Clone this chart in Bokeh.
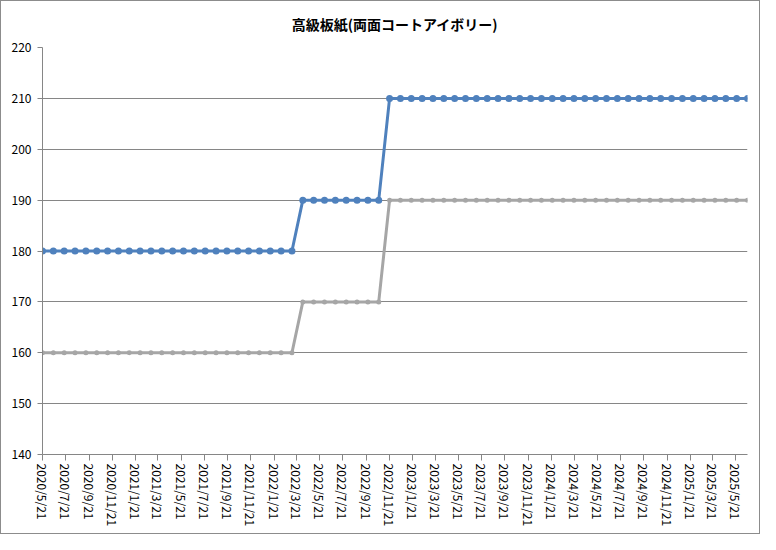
import pandas as pd
from bokeh.plotting import figure
from bokeh.models import Range1d, FixedTicker, SingleIntervalTicker, ColumnDataSource, CustomJSTickFormatter
from bokeh.embed import file_html
from bokeh.resources import INLINE

title_text = "高級板紙(両面コートアイボリー)"
first_date = "2020-05-21"
last_date = "2025-06-21"
n_points = 66

# blue series
series_blue = [
    180, 180, 180, 180, 180, 180, 180, 180, 180, 180, 180, 180,
    180, 180, 180, 180, 180, 180, 180, 180, 180, 180, 180, 180,
    190, 190, 190, 190, 190, 190, 190, 190,
    210, 210, 210, 210, 210, 210, 210, 210, 210, 210, 210, 210,
    210, 210, 210, 210, 210, 210, 210, 210, 210, 210, 210, 210,
    210, 210, 210, 210, 210, 210, 210, 210, 210, 210,
]
# gray series
series_gray = [
    160, 160, 160, 160, 160, 160, 160, 160, 160, 160, 160, 160,
    160, 160, 160, 160, 160, 160, 160, 160, 160, 160, 160, 160,
    170, 170, 170, 170, 170, 170, 170, 170,
    190, 190, 190, 190, 190, 190, 190, 190, 190, 190, 190, 190,
    190, 190, 190, 190, 190, 190, 190, 190, 190, 190, 190, 190,
    190, 190, 190, 190, 190, 190, 190, 190, 190, 190,
]

tick_labels = [
    "2020/5/21", "2020/7/21", "2020/9/21", "2020/11/21",
    "2021/1/21", "2021/3/21", "2021/5/21", "2021/7/21", "2021/9/21", "2021/11/21",
    "2022/1/21", "2022/3/21", "2022/5/21", "2022/7/21", "2022/9/21", "2022/11/21",
    "2023/1/21", "2023/3/21", "2023/5/21", "2023/7/21", "2023/9/21", "2023/11/21",
    "2024/1/21", "2024/3/21", "2024/5/21", "2024/7/21", "2024/9/21", "2024/11/21",
    "2025/1/21", "2025/3/21", "2025/5/21",
]
y_min, y_max, y_step = 140, 220, 10

dates = pd.date_range(first_date, last_date, periods=n_points)
src = ColumnDataSource(dict(x=dates, blue=series_blue, gray=series_gray))

tick_ms = [float(pd.Timestamp(s).value // 10**6) for s in tick_labels]

FONT = "Noto Sans CJK JP"
GRID = "#868686"

p = figure(
    width=760, height=534,
    x_axis_type="datetime",
    output_backend="svg", toolbar_location=None,
    x_range=Range1d(pd.Timestamp(first_date), pd.Timestamp(last_date)),
    y_range=Range1d(y_min, y_max),
    min_border_left=41, min_border_right=14, min_border_top=46, min_border_bottom=81,
    styles={"border": "1px solid #8c8c8c"},
)
p.outline_line_color = None
p.background_fill_color = "white"
p.border_fill_color = "white"

p.title.text = title_text
p.title.align = "center"
p.title.vertical_align = "top"
p.title.text_font = FONT
p.title.text_font_size = "14px"
p.title.text_font_style = "bold"
p.title.text_color = "black"
p.title.standoff = 23

p.xgrid.grid_line_color = None
p.ygrid.grid_line_color = GRID
p.ygrid.grid_line_width = 1

p.yaxis.ticker = SingleIntervalTicker(interval=y_step)
p.xaxis.ticker = FixedTicker(ticks=tick_ms)
p.xaxis.formatter = CustomJSTickFormatter(
    args=dict(tick_vals=tick_ms, tick_texts=tick_labels),
    code="const i = tick_vals.indexOf(tick); return i >= 0 ? tick_texts[i] : '';",
)
p.xaxis.major_label_orientation = "vertical"

for ax in (p.xaxis, p.yaxis):
    ax.axis_line_color = GRID
    ax.major_tick_line_color = GRID
    ax.minor_tick_line_color = None
    ax.major_tick_in = 0
    ax.major_label_text_font = FONT
    ax.major_label_text_font_size = "12px"
    ax.major_label_text_color = "black"
p.yaxis.major_tick_out = 5
p.yaxis.major_label_standoff = 6
p.xaxis.major_tick_out = 6
p.xaxis.major_label_standoff = 3

p.line("x", "gray", source=src, line_color="#a6a6a6", line_width=3)
p.scatter("x", "gray", source=src, size=5, fill_color="#a6a6a6", line_color=None)
p.line("x", "blue", source=src, line_color="#4f81bd", line_width=3)
p.scatter("x", "blue", source=src, size=7, fill_color="#4f81bd", line_color=None)

open("out.html", "w").write(file_html(p, INLINE))
